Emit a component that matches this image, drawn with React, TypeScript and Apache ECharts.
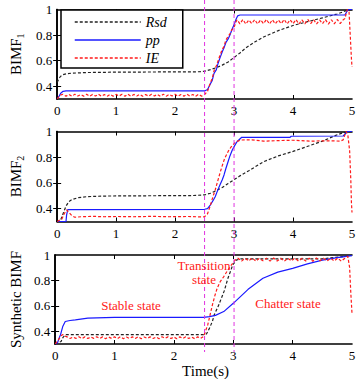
import React, { useEffect, useRef } from "react";
import * as echarts from "echarts";

type P = [number, number][];

// ---------- Panel 1 : BIMF1 ----------
const rsd1: P = [[0,0.43],[0.03,0.46],[0.06,0.478],[0.1,0.49],[0.15,0.497],[0.25,0.502],[0.5,0.507],[1,0.51],[2,0.512],[2.4,0.513],[2.5,0.517],[2.6,0.53],[2.7,0.545],[2.8,0.565],[2.9,0.59],[3.0,0.625],[3.1,0.66],[3.2,0.7],[3.35,0.745],[3.5,0.785],[3.75,0.835],[4,0.875],[4.25,0.905],[4.5,0.935],[4.75,0.965],[4.9,0.99],[5,1.0]];
const pp1: P = [[0,0.3],[0.03,0.32],[0.06,0.345],[0.1,0.36],[0.15,0.363],[2.5,0.363],[2.55,0.375],[2.6,0.42],[2.63,0.445],[2.66,0.5],[2.7,0.53],[2.73,0.58],[2.76,0.62],[2.8,0.67],[2.83,0.7],[2.86,0.74],[2.9,0.77],[2.93,0.8],[2.97,0.85],[3.0,0.88],[3.03,0.92],[3.06,0.95],[3.1,0.957],[4.88,0.957],[4.92,0.99],[4.95,1.0],[5,1.0]];
const ie1Start: P = [[0,0.3],[0.05,0.33]];
const ie1LowT0 = 0.1;
const ie1Low = [0.337,0.322,0.336,0.321,0.338,0.323,0.335,0.322,0.337,0.321,0.336,0.323,0.338,0.322,0.335,0.321,0.337,0.322,0.336,0.323,0.337,0.321,0.338,0.322,0.336,0.323,0.337,0.321,0.335,0.322,0.337,0.323,0.336,0.321,0.338,0.322,0.336,0.323,0.337,0.321,0.336,0.322,0.338,0.323,0.335,0.321,0.337,0.322];
const ie1Rise: P = [[2.5,0.335],[2.55,0.36],[2.6,0.43],[2.63,0.46],[2.66,0.52],[2.7,0.56],[2.73,0.6],[2.76,0.64],[2.8,0.69],[2.83,0.71],[2.86,0.76],[2.9,0.79],[2.93,0.81],[2.96,0.84],[3.0,0.86],[3.03,0.9]];
const ie1HighT0 = 3.05;
const ie1High = [0.92,0.888,0.922,0.886,0.918,0.89,0.921,0.887,0.919,0.889,0.923,0.886,0.92,0.888,0.918,0.89,0.922,0.887,0.92,0.889,0.921,0.886,0.919,0.888,0.922,0.89,0.92,0.887,0.918,0.889,0.921,0.886,0.92,0.888,0.922,0.89,0.919];
const ie1End: P = [[4.88,0.93],[4.92,1.0],[4.95,0.98],[4.97,0.8],[4.99,0.62],[5,0.55]];

// ---------- Panel 2 : BIMF2 ----------
const rsd2: P = [[0,0.3],[0.05,0.3],[0.1,0.36],[0.15,0.42],[0.2,0.455],[0.25,0.47],[0.35,0.485],[0.5,0.493],[0.8,0.498],[1.5,0.5],[2.3,0.502],[2.5,0.507],[2.6,0.52],[2.7,0.54],[2.8,0.565],[2.9,0.595],[3.0,0.625],[3.1,0.655],[3.25,0.695],[3.5,0.765],[3.75,0.81],[4,0.845],[4.25,0.885],[4.5,0.925],[4.75,0.975],[4.85,0.99],[5,1.0]];
const pp2: P = [[0,0.3],[0.15,0.3],[0.16,0.35],[0.18,0.393],[2.5,0.395],[2.55,0.4],[2.6,0.43],[2.64,0.46],[2.68,0.493],[2.72,0.54],[2.76,0.584],[2.8,0.625],[2.83,0.662],[2.86,0.71],[2.89,0.753],[2.93,0.81],[2.97,0.856],[3.01,0.89],[3.05,0.92],[3.13,0.955],[3.95,0.955],[3.97,0.963],[4.85,0.965],[4.9,0.99],[4.93,1.0],[5,1.0]];
const ie2: P = [[0,0.3],[0.08,0.32],[0.12,0.36],[0.16,0.39],[0.2,0.37],[0.25,0.345],[0.3,0.333],[0.4,0.337],[0.6,0.34],[0.8,0.337],[1.0,0.339],[1.3,0.337],[1.6,0.34],[1.9,0.337],[2.2,0.339],[2.45,0.336],[2.5,0.337],[2.55,0.36],[2.6,0.428],[2.64,0.49],[2.68,0.545],[2.72,0.61],[2.76,0.675],[2.8,0.735],[2.84,0.79],[2.9,0.845],[2.95,0.88],[3.03,0.92],[3.12,0.934],[3.3,0.935],[3.5,0.925],[3.8,0.93],[4.0,0.932],[4.3,0.925],[4.6,0.928],[4.8,0.925],[4.85,0.935],[4.9,1.0],[4.93,0.97],[4.96,0.85],[4.98,0.62],[4.99,0.45],[5,0.37]];

// ---------- Panel 3 : Synthetic BIMF ----------
const pp3: P = [[0,0.3],[0.04,0.31],[0.07,0.35],[0.09,0.373],[0.13,0.44],[0.17,0.477],[0.25,0.485],[0.34,0.49],[0.55,0.503],[1,0.51],[2.5,0.51],[2.6,0.515],[2.7,0.525],[2.84,0.555],[3.0,0.62],[3.25,0.73],[3.5,0.817],[3.75,0.865],[4,0.895],[4.25,0.93],[4.5,0.96],[4.75,0.98],[5,0.995]];
const rsd3: P = [[0,0.3],[0.1,0.32],[0.13,0.35],[0.17,0.373],[2.5,0.373],[2.55,0.38],[2.6,0.425],[2.65,0.48],[2.68,0.53],[2.75,0.6],[2.8,0.66],[2.85,0.72],[2.91,0.817],[2.96,0.88],[2.99,0.92],[3.05,0.96],[3.13,0.97],[4.5,0.97],[4.9,0.99],[5,1.0]];
const ie3Start: P = [[0,0.3],[0.05,0.33],[0.1,0.365],[0.13,0.375],[0.18,0.36]];
const ie3LowT0 = 0.2;
const ie3Low = [0.356,0.343,0.355,0.344,0.357,0.342,0.356,0.343,0.355,0.344,0.357,0.343,0.356,0.342,0.355,0.344,0.356,0.343,0.357,0.342,0.355,0.344,0.356,0.343,0.357,0.342,0.355,0.344,0.356,0.343,0.355,0.342,0.357,0.344,0.356,0.343,0.355,0.342,0.356,0.344,0.357,0.343,0.355,0.342,0.356,0.344];
const ie3Rise: P = [[2.5,0.36],[2.57,0.45],[2.61,0.53],[2.65,0.61],[2.69,0.68],[2.73,0.74],[2.78,0.79],[2.84,0.83],[2.9,0.875],[2.95,0.91],[3.03,0.96]];
const ie3HighT0 = 3.08;
const ie3High = [0.975,0.952,0.974,0.953,0.976,0.951,0.974,0.954,0.975,0.952,0.976,0.953,0.974,0.951,0.975,0.954,0.976,0.952,0.974,0.953,0.975,0.951,0.976,0.954,0.974,0.952,0.975,0.953,0.976,0.951,0.974];
const ie3End: P = [[4.9,0.98],[4.93,0.99],[4.96,0.9],[4.98,0.7],[5,0.54]];

// axes
const xTicks = [0, 1, 2, 3, 4, 5];
const yTicks = [0.4, 0.6, 0.8, 1];
const markTimes = [2.5, 3];

const seq = (t0: number, step: number, vals: number[]): P => vals.map((v, i) => [+(t0 + i * step).toFixed(3), v]);
const ie1: P = [...ie1Start, ...seq(ie1LowT0, 0.05, ie1Low), ...ie1Rise, ...seq(ie1HighT0, 0.05, ie1High), ...ie1End];
const ie3: P = [...ie3Start, ...seq(ie3LowT0, 0.05, ie3Low), ...ie3Rise, ...seq(ie3HighT0, 0.06, ie3High), ...ie3End];

const SERIF = "Liberation Serif";
const grids = [
  { left: 46, right: 8, top: 9.5, height: 89.5 },
  { left: 46, right: 8, top: 131.5, height: 90 },
  { left: 46, right: 8, top: 255, height: 89.3 },
];

export default function App() {
  const ref = useRef<HTMLDivElement>(null);
  useEffect(() => {
    if (!ref.current) return;
    const chart = echarts.init(ref.current, undefined, { renderer: "svg" });
    const axisLine = { lineStyle: { color: "#000", width: 1.6 } };
    const xAxes: any[] = [];
    const yAxes: any[] = [];
    const yNames = [
      "{m|BIMF}{s|1}",
      "{m|BIMF}{s|2}",
      "{m|Synthetic BIMF}",
    ];
    grids.forEach((_, g) => {
      xAxes.push({
        type: "value", gridIndex: g, min: 0, max: 5, interval: 1, position: "bottom",
        axisLine, splitLine: { show: false },
        axisTick: { inside: true, length: 4, lineStyle: { color: "#000" }, customValues: xTicks.slice(1, -1) },
        axisLabel: { color: "#000", fontFamily: SERIF, fontSize: 13, margin: 5, customValues: xTicks },
        ...(g === 2 ? { name: "Time(s)", nameLocation: "middle", nameGap: 19, nameTextStyle: { color: "#000", fontFamily: SERIF, fontSize: 15, padding: [0, 0, 0, 4] } } : {}),
      });
      xAxes.push({
        type: "value", gridIndex: g, min: 0, max: 5, interval: 1, position: "top",
        axisLine, splitLine: { show: false },
        axisTick: { inside: true, length: 4, lineStyle: { color: "#000" }, customValues: xTicks.slice(1, -1) },
        axisLabel: { show: false },
      });
      yAxes.push({
        type: "value", gridIndex: g, min: 0.3, max: 1, position: "left",
        axisLine, splitLine: { show: false },
        axisTick: { inside: true, length: 4, lineStyle: { color: "#000" }, customValues: yTicks.slice(0, -1) },
        axisLabel: { color: "#000", fontFamily: SERIF, fontSize: 13, margin: 5, customValues: yTicks, formatter: (v: number) => String(v) },
        name: yNames[g], nameLocation: "middle", nameGap: 30, nameRotate: 90,
        nameTextStyle: {
          color: "#000",
          rich: {
            m: { fontFamily: SERIF, fontSize: 15, color: "#000" },
            s: { fontFamily: SERIF, fontSize: 10, color: "#000", padding: [9, 0, 0, 0] },
          },
        },
      });
      yAxes.push({
        type: "value", gridIndex: g, min: 0.3, max: 1, position: "right",
        axisLine, splitLine: { show: false },
        axisTick: { inside: true, length: 4, lineStyle: { color: "#000" }, customValues: yTicks.slice(0, -1) },
        axisLabel: { show: false },
      });
    });

    const mk = (name: string, data: P, g: number, color: string, dashed: boolean, z: number) => ({
      name, type: "line", data, xAxisIndex: g * 2, yAxisIndex: g * 2, symbol: "none", z,
      legendIcon: "none",
      lineStyle: { color, width: 1.2, type: dashed ? [3, 2] : "solid" },
      itemStyle: { color },
    });
    const BLK = "#222", BLU = "#1a1aff", RED = "#ff1a1a";
    const series = [
      mk("Rsd", rsd1, 0, BLK, true, 2), mk("pp", pp1, 0, BLU, false, 3), mk("IE", ie1, 0, RED, true, 4),
      mk("Rsd", rsd2, 1, BLK, true, 2), mk("pp", pp2, 1, BLU, false, 3), mk("IE", ie2, 1, RED, true, 4),
      mk("Rsd", rsd3, 2, BLK, true, 2), mk("pp", pp3, 2, BLU, false, 3), mk("IE", ie3, 2, RED, true, 4),
    ];

    chart.setOption({
      animation: false,
      backgroundColor: "#fff",
      grid: grids,
      xAxis: xAxes,
      yAxis: yAxes,
      series,
      legend: {
        data: ["Rsd", "pp", "IE"],
        orient: "vertical", left: 61, top: 10,
        itemWidth: 66, itemHeight: 10, itemGap: 4,
        padding: [5, 16, 3, 13],
        borderColor: "#000", borderWidth: 1.5, backgroundColor: "#fff",
        itemStyle: { opacity: 0 },
        lineStyle: { width: 1.5 },
        textStyle: { fontFamily: SERIF, fontStyle: "italic", fontSize: 14, color: "#000" },
        z: 10,
      },
    });

    const texts = [
      { text: "Stable state", x: 131, y: 305 },
      { text: "Transition\nstate", x: 204, y: 272 },
      { text: "Chatter state", x: 288, y: 303 },
    ];
    const graphic: any[] = markTimes.map((t) => {
      const px = chart.convertToPixel({ xAxisIndex: 0 }, t) as number;
      return {
        type: "line", z: 20, silent: true,
        shape: { x1: px, y1: 0, x2: px, y2: 352 },
        style: { stroke: "#e033e0", lineWidth: 1, lineDash: [4, 3] },
      };
    });
    texts.forEach((tx) => {
      graphic.push({
        type: "text", x: tx.x, y: tx.y, z: 21,
        style: { text: tx.text, fill: "#ff2020", font: `13px '${SERIF}'`, textAlign: "center", textVerticalAlign: "middle", lineHeight: 14 },
      });
    });
    chart.setOption({ graphic });
    return () => chart.dispose();
  }, []);
  return <div ref={ref} style={{ width: 360, height: 379, position: "absolute", left: 0, top: 0 }} />;
}
